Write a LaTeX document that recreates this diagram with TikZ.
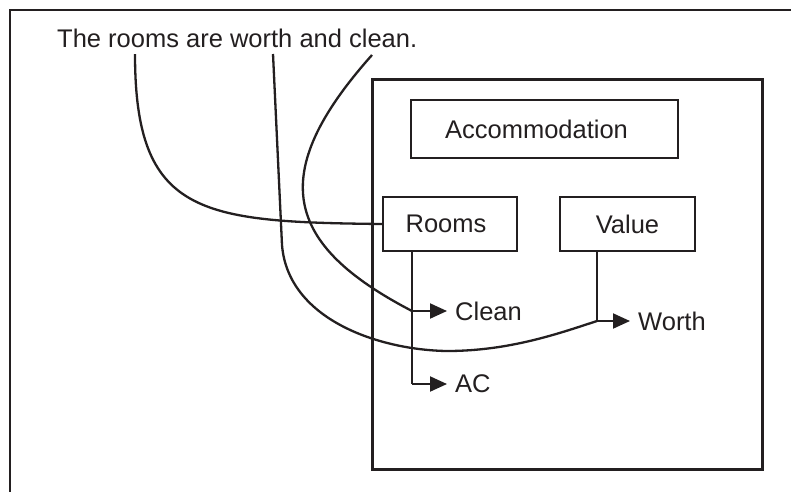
\documentclass[tikz,border=0pt]{standalone}
\usepackage{fontspec}
\setmainfont{Liberation Sans}
\usetikzlibrary{arrows.meta}
\definecolor{ink}{RGB}{35,31,32}
\begin{document}
\begin{tikzpicture}[x=1pt,y=-1pt,
  every node/.style={text=ink,font=\fontsize{25.5}{30}\selectfont},
  box/.style={draw=ink,line width=2.2pt,inner sep=0pt},
  lbl/.style={anchor=west,inner xsep=8pt,inner ysep=0pt},
  link/.style={draw=ink,line width=2pt},
  arr/.style={link,-{Triangle[length=17pt,width=15pt]}},
  curve/.style={draw=ink,line width=2.3pt}]
\clip (0,0) rectangle (791,491);
\fill[white] (0,0) rectangle (791,491);
% outer frame (cut off on right and bottom)
\draw[ink,line width=2.5pt] (10,10) rectangle (820,520);
% inner big box
\node[box,line width=3pt,minimum width=390pt,minimum height=390pt] (panel) at (567,274) {};
% title
\node[anchor=base west,inner sep=0pt] (title) at (57,47) {The rooms are worth and clean.};
% boxes
\node[box,minimum width=267pt,minimum height=58pt] (acc) at (544.5,129) {Accommodation\hspace*{16pt}};
\node[box,minimum width=134pt,minimum height=54pt] (rooms) at (450,224) {Rooms\hspace*{8pt}};
\node[box,minimum width=135pt,minimum height=54pt] (value) at (627.5,224) {Value};
% labels
\node[lbl] (clean) at (447,311) {Clean};
\node[lbl] (worth) at (630,321) {Worth};
\node[lbl] (ac) at (447,384) {AC};
% junctions
\coordinate (rc) at (412,311);
\coordinate (ra) at (412,384);
\coordinate (vw) at (597,321);
% tree connectors
\draw[link] (rooms.south -| rc) -- (ra);
\draw[arr] (rc) -- (clean.west);
\draw[arr] (ra) -- (ac.west);
\draw[link] (value.south -| vw) -- (vw);
\draw[arr] (vw) -- (worth.west);
% free ends under the title
\coordinate (wrooms) at (135,54);
\coordinate (wworth) at (273,54);
\coordinate (wclean) at (372,55);
\coordinate (bend) at (282,245);
\coordinate (low) at (447,351);
% curves from words to concepts
\draw[curve] (wrooms) .. controls (135,215) and (200,222) .. (rooms.west);
\draw[curve] (wworth) -- (bend) .. controls (288,320) and (380,350) .. (low)
  .. controls (510,351) and (560,333) .. (vw);
\draw[curve] (wclean) .. controls (265,175) and (285,245) .. (rc);
\end{tikzpicture}
\end{document}
